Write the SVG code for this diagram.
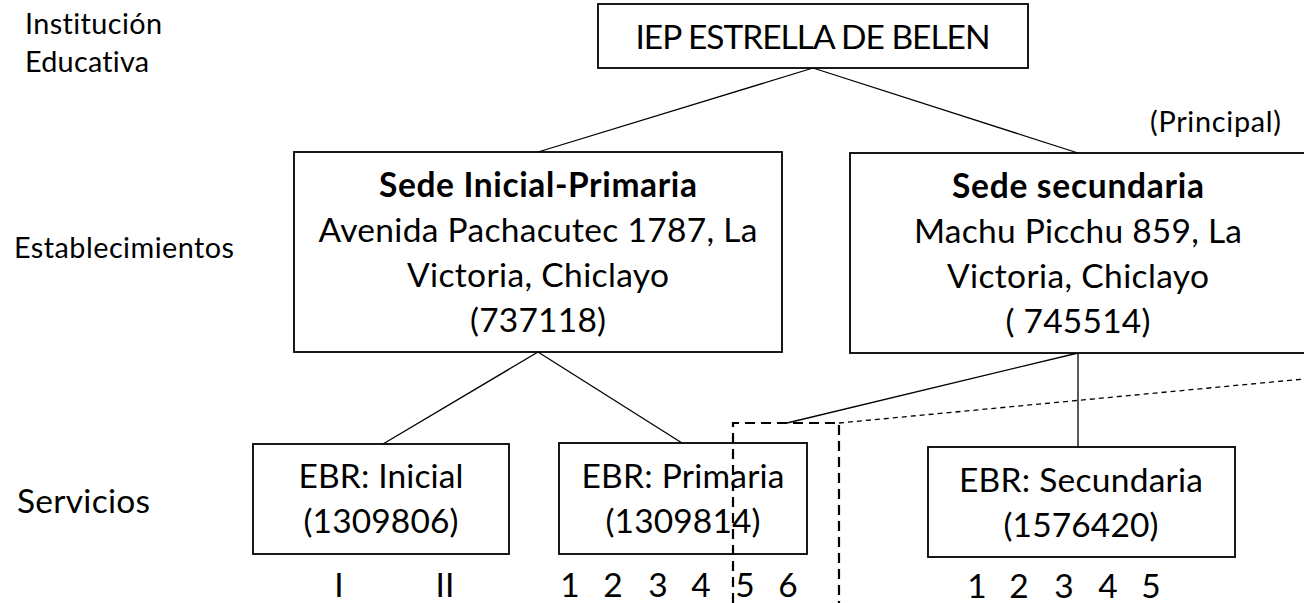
<svg xmlns="http://www.w3.org/2000/svg" width="1304" height="603" viewBox="0 0 1304 603">
<style>
text{font-family:Lato,"Open Sans","Liberation Sans",sans-serif;fill:#000;font-variant-ligatures:none;font-feature-settings:"liga" 0}
.lbl{font-size:28.8px}
.big{font-size:33.5px;text-anchor:middle}
.b{font-weight:bold}
.box{fill:#fff;stroke:#000;stroke-width:1.8}
.ln{stroke:#000;stroke-width:1.3;fill:none}
.dash{stroke:#000;stroke-width:2.2;stroke-dasharray:10,6;fill:none}
.dot{stroke:#000;stroke-width:1.3;stroke-dasharray:5,4;fill:none}
</style>
<g id="labels">
<text class="lbl" x="25" y="34" textLength="137">Institución</text>
<text class="lbl" x="25" y="72" textLength="124">Educativa</text>
<text class="lbl" x="14" y="258" textLength="220">Establecimientos</text>
<text x="17" y="513" style="font-size:33.5px" textLength="133">Servicios</text>
<text class="lbl" x="1150" y="132" textLength="131">(Principal)</text>
</g>
<g id="connectors">
<line class="ln" x1="813" y1="68" x2="538" y2="152"/>
<line class="ln" x1="813" y1="68" x2="1078" y2="153"/>
<line class="ln" x1="538" y1="352" x2="383" y2="444"/>
<line class="ln" x1="538" y1="352" x2="682" y2="443"/>
<line class="ln" x1="1078" y1="353" x2="787" y2="423"/>
<line class="ln" x1="1078" y1="353" x2="1078" y2="447"/>
<line class="dot" x1="839" y1="423" x2="1304" y2="379"/>
</g>
<g id="iep">
<rect class="box" x="598" y="4" width="430" height="64"/>
<text class="big" x="813" y="49" textLength="355">IEP ESTRELLA DE BELEN</text>
</g>
<g id="sede-inicial">
<rect class="box" x="294" y="152" width="488" height="200"/>
<text class="big b" x="538" y="197" textLength="318">Sede Inicial-Primaria</text>
<text class="big" x="538" y="242" textLength="439">Avenida Pachacutec 1787, La</text>
<text class="big" x="538" y="287" textLength="262">Victoria, Chiclayo</text>
<text class="big" x="538" y="332" textLength="136">(737118)</text>
</g>
<g id="sede-secundaria">
<rect class="box" x="850" y="153" width="470" height="200"/>
<text class="big b" x="1078" y="198" textLength="252">Sede secundaria</text>
<text class="big" x="1078" y="243" textLength="328">Machu Picchu 859, La</text>
<text class="big" x="1078" y="288" textLength="262">Victoria, Chiclayo</text>
<text class="big" x="1078" y="333" textLength="145">( 745514)</text>
</g>
<g id="ebr-inicial">
<rect class="box" x="253" y="444" width="256" height="110"/>
<text class="big" x="381" y="488" textLength="165">EBR: Inicial</text>
<text class="big" x="381" y="533" textLength="155">(1309806)</text>
<text class="big" x="339" y="597">I</text>
<text class="big" x="445" y="597">II</text>
</g>
<g id="ebr-primaria">
<rect class="box" x="559" y="443" width="248" height="111"/>
<text class="big" x="683" y="488" textLength="203">EBR: Primaria</text>
<text class="big" x="683" y="533" textLength="155">(1309814)</text>
<text class="big" x="570" y="597">1</text>
<text class="big" x="613" y="597">2</text>
<text class="big" x="658" y="597">3</text>
<text class="big" x="701" y="597">4</text>
<text class="big" x="745" y="597">5</text>
<text class="big" x="788" y="597">6</text>
</g>
<g id="ebr-secundaria">
<rect class="box" x="928" y="447" width="307" height="110"/>
<text class="big" x="1081" y="492" textLength="244">EBR: Secundaria</text>
<text class="big" x="1081" y="537" textLength="155">(1576420)</text>
<text class="big" x="977" y="598">1</text>
<text class="big" x="1019" y="598">2</text>
<text class="big" x="1064" y="598">3</text>
<text class="big" x="1108" y="598">4</text>
<text class="big" x="1151" y="598">5</text>
</g>
<g id="dashed-group">
<polyline class="dash" points="733,603 733,423 839,423 839,603"/>
</g>
</svg>
